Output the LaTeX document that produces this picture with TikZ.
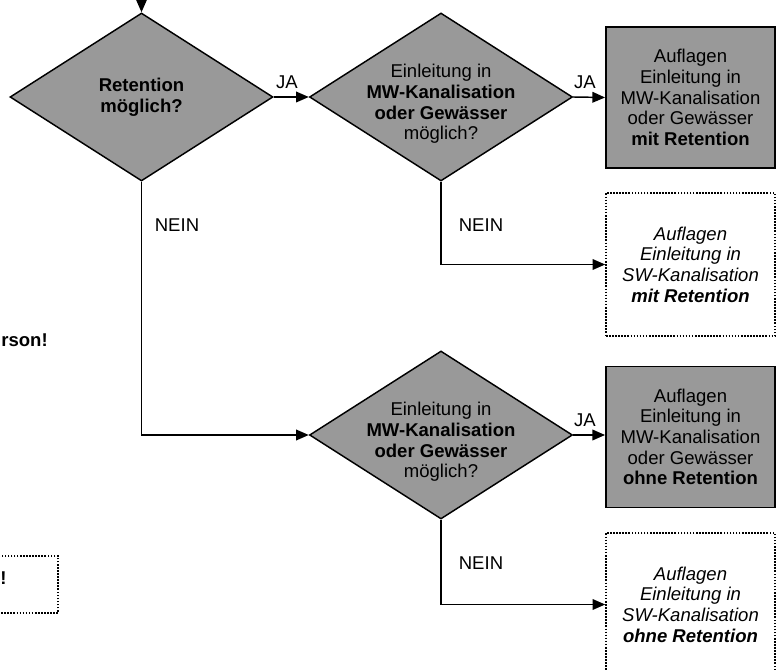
\documentclass[tikz,border=0pt]{standalone}
\usepackage{fontspec}
\setmainfont{Liberation Sans}
\usetikzlibrary{shapes.geometric,arrows.meta}
\definecolor{boxgray}{RGB}{153,153,153}
\begin{document}
\begin{tikzpicture}[x=0.75pt,y=-0.75pt,
  every node/.style={font=\fontsize{13.9}{15.5}\selectfont},
  dia/.style={shape=diamond,draw,fill=boxgray,line width=1.1pt,minimum width=197.25pt,minimum height=126pt,inner sep=0pt},
  txt/.style={align=center,inner sep=0pt},
  graybox/.style={draw,fill=boxgray,line width=1.4pt,minimum width=126.75pt,minimum height=105.75pt,align=center,inner sep=0pt},
  dotbox/.style={draw,line width=1.2pt,dash pattern=on 1.2pt off 1.1pt,minimum width=126.75pt,minimum height=107.25pt,align=center,inner sep=0pt},
  arr/.style={line width=1.1pt,-{Triangle[length=9.5pt,width=8pt]}},
  lbl/.style={inner sep=0pt}]
\useasboundingbox (0,0) rectangle (783,670);

% diamonds
\node (d1) [dia] at (141.5,97) {};
\node (t1) [txt] at (141.5,97) {\textbf{Retention}\\\textbf{möglich?}};
\node (d2) [dia] at (441,97) {};
\node (t2) [txt] at (441,104) {Einleitung in\\\textbf{MW-Kanalisation}\\\textbf{oder Gewässer}\\möglich?};
\node (d3) [dia] at (441,435) {};
\node (t3) [txt] at (441,442) {Einleitung in\\\textbf{MW-Kanalisation}\\\textbf{oder Gewässer}\\möglich?};

% result boxes
\node (b1) [graybox] at (690.5,97.5) {Auflagen\\Einleitung in\\MW-Kanalisation\\oder Gewässer\\\textbf{mit Retention}};
\node (b2) [dotbox] at (690.5,264.5) {\itshape Auflagen\\\itshape Einleitung in\\\itshape SW-Kanalisation\\\itshape\bfseries mit Retention};
\node (b3) [graybox] at (690.5,437) {Auflagen\\Einleitung in\\MW-Kanalisation\\oder Gewässer\\\textbf{ohne Retention}};
\node (b4) [dotbox] at (690.5,604.5) {\itshape Auflagen\\\itshape Einleitung in\\\itshape SW-Kanalisation\\\itshape\bfseries ohne Retention};

% left partial elements
\node (lb) [draw,line width=1.2pt,dash pattern=on 1.2pt off 1.1pt,minimum width=118.5pt,minimum height=42.75pt,inner sep=0pt] at (-21,584.5) {};
\node (ex) [lbl] at (3.5,578) {\textbf{!}};
\node (rs) [lbl,anchor=east] at (48,340) {\textbf{rson!}};

% connectors
\coordinate (top) at (141.5,-30);
\draw[arr] (top) -- (d1.north);
\draw[arr] (d1.east) -- (d2.west);
\draw[arr] (d2.east) -- (b1.west);
\draw[arr] (d2.south) |- (b2.west);
\draw[arr] (d1.south) |- (d3.west);
\draw[arr] (d3.east) -- (d3.east -| b3.west);
\draw[arr] (d3.south) |- (b4.west);

% labels
\node (ja1) [lbl] at (287,82) {JA};
\node (ja2) [lbl] at (585,82) {JA};
\node (ja3) [lbl] at (585,420) {JA};
\node (n1) [lbl] at (177,225) {NEIN};
\node (n2) [lbl] at (481,225) {NEIN};
\node (n3) [lbl] at (481,563) {NEIN};
\end{tikzpicture}
\end{document}
